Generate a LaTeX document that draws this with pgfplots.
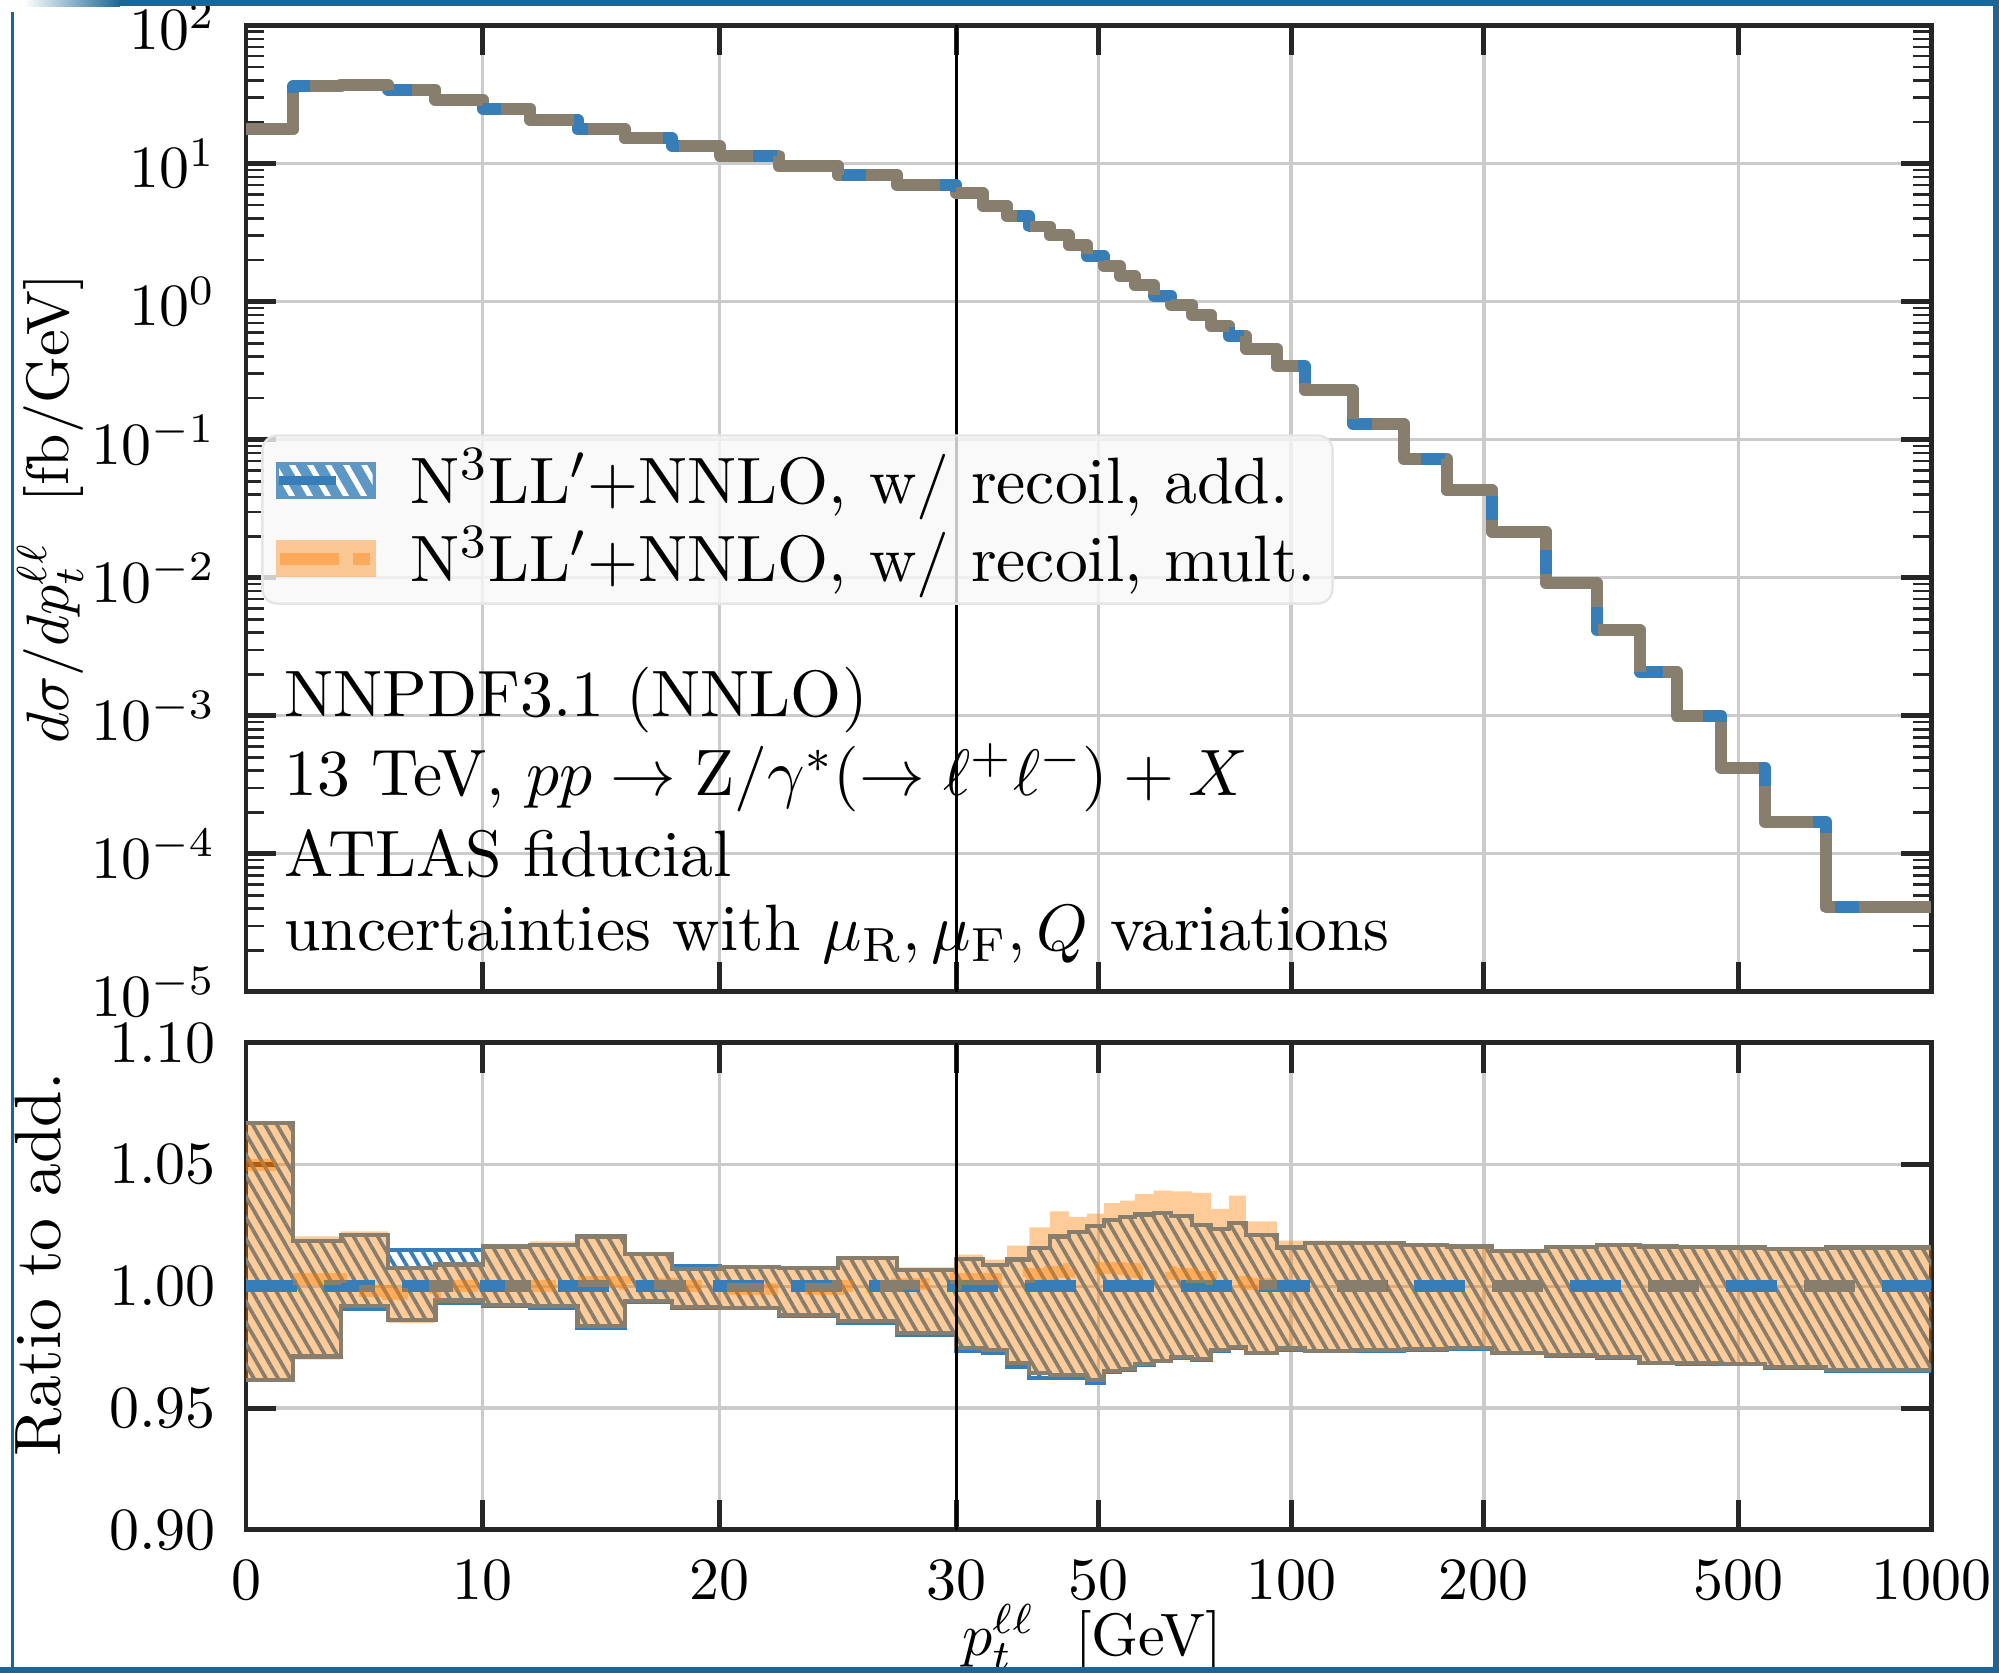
\documentclass[border=0pt]{standalone}
\usepackage{pgfplots}
\pgfplotsset{compat=1.18}
\usepackage{pgfplotstable}
\usepgfplotslibrary{fillbetween}
\usetikzlibrary{patterns.meta}
\definecolor{cblue}{HTML}{377EB8}
\definecolor{corange}{HTML}{FF7F00}
\definecolor{cmix}{HTML}{877E6E}
\definecolor{frameblue}{HTML}{1B6697}
\definecolor{axblack}{HTML}{262626}
\definecolor{gridgray}{HTML}{CBCBCB}

% bin left edge, add. prediction [fb/GeV], ratio bands (blue = add., orange = mult.), mult./add. central
\pgfplotstableread{
x     add       bu      bl      ou      ol      oc
0     17.7      1.0671  0.9616  1.0675  0.9610  1.050
2     36.5      1.0185  0.9712  1.0205  0.9699  1.003
4     37.3      1.0212  0.9908  1.0226  0.9920  0.998
6     34.3      1.0150  0.9863  1.0075  0.9850  0.997
8     29.1      1.0150  0.9934  1.0090  0.9942  1.000
10    25.0      1.0164  0.9918  1.0165  0.9925  1.000
12    20.8      1.0170  0.9910  1.0185  0.9920  1.000
14    17.7      1.0205  0.9830  1.0210  0.9836  1.002
16    15.2      1.0133  0.9935  1.0140  0.9940  1.001
18    13.4      1.0085  0.9910  1.0070  0.9915  1.000
20    11.4      1.0080  0.9910  1.0078  0.9912  0.999
22.5  9.62      1.0077  0.9877  1.0075  0.9884  0.999
25    8.28      1.0116  0.9850  1.0123  0.9857  1.000
27.5  6.98      1.0068  0.9800  1.0078  0.9807  1.001
30    6.1       1.0114  0.9733  1.0130  0.9747  1.003
33    4.96      1.0089  0.9726  1.0110  0.9740  1.003
36    4.16      1.0110  0.9671  1.0167  0.9685  1.004
39    3.50      1.0158  0.9623  1.0242  0.9644  1.005
42    3.02      1.0205  0.9623  1.0308  0.9637  1.006
45    2.56      1.0222  0.9623  1.0285  0.9637  1.007
48    2.13      1.0247  0.9603  1.0299  0.9615  1.0075
51    1.81      1.0274  0.9650  1.0342  0.9652  1.0075
54    1.53      1.0284  0.9658  1.0352  0.9660  1.007
57    1.32      1.0295  0.9678  1.0379  0.9680  1.006
61    1.10      1.0301  0.9692  1.0393  0.9694  1.006
65    0.946     1.0290  0.9708  1.0390  0.9710  1.005
70    0.80      1.0253  0.9699  1.0384  0.9701  1.004
75    0.668     1.0236  0.9736  1.0318  0.9738  1.003
80    0.560     1.0260  0.9747  1.0373  0.9750  1.002
85    0.454     1.0210  0.9726  1.0267  0.9728  1.001
95    0.340     1.0160  0.9740  1.0188  0.9745  1.000
105   0.229     1.0178  0.9733  1.0188  0.9735  1.000
125   0.130     1.0178  0.9736  1.0180  0.9738  1.000
150   0.0726    1.0171  0.9740  1.0173  0.9742  1.000
175   0.0430    1.0164  0.9744  1.0166  0.9746  1.000
206   0.0216    1.0144  0.9726  1.0146  0.9728  1.000
250   0.0092    1.0162  0.9716  1.0164  0.9718  1.000
300   0.00419   1.0171  0.9708  1.0173  0.9710  1.000
350   0.00208   1.0164  0.9685  1.0166  0.9687  1.000
400   0.00100   1.0162  0.9682  1.0164  0.9684  1.000
470   0.00042   1.0160  0.9680  1.0162  0.9682  1.000
550   0.000170  1.0155  0.9667  1.0157  0.9669  1.000
685   0.0000409 1.0160  0.9653  1.0162  0.9655  1.000
1000  0.0000409 1.0160  0.9653  1.0162  0.9655  1.000
}\data

% mult./add. central value from 2 to 95 GeV (first bin: 1.05; above 95 GeV: 1)
\pgfplotstableread{
x     oc
2     1.003
4     0.998
6     0.997
8     1.000
14    1.002
16    1.001
18    1.000
20    0.999
25    1.000
27.5  1.001
30    1.003
36    1.004
39    1.005
42    1.006
45    1.007
48    1.0075
54    1.007
57    1.006
65    1.005
70    1.004
75    1.003
80    1.002
85    1.001
95    1.001
}\oclow

\pgfplotsset{
  ptaxis/.style={
    scale only axis, width=281.28pt,
    xmin=0, xmax=1000,
    x coord trafo/.code={\pgfmathparse{min(##1,30)+11.7434*ln(max(##1,30)/30)}},
    xtick={0,10,20,30,50,100,200,500,1000},
    grid=major,
    major grid style={gridgray, line width=0.55pt},
    axis line style={axblack, line width=0.8pt},
    major tick length=5pt, minor tick length=3pt,
    major tick style={axblack, line width=0.8pt},
    minor tick style={axblack, line width=0.45pt},
    tick align=inside,
    yticklabel style={xshift=-1.5pt},
    xticklabel style={yshift=-1.5pt},
  }
}

\begin{document}
\begin{tikzpicture}
% ---------------- upper panel ----------------
\begin{axis}[ptaxis,
  at={(41.06pt,-165.53pt)}, anchor=south west, height=161.28pt,
  ymode=log, ymin=1e-5, ymax=1e2, ytickten={-5,...,2},
  xticklabels={},
  ylabel={$d\sigma/dp_t^{\ell\ell}$~~[fb/GeV]},
  ylabel style={at={(axis description cs:-0.116,0.5)}, anchor=center},
  legend cell align=left,
  legend style={at={(0.009,0.577)}, anchor=north west,
    fill=black!3, fill opacity=0.8, draw=black!10, draw opacity=1, text opacity=1,
    rounded corners=2.5pt, inner xsep=2pt, inner ysep=1pt,
    font=\fontsize{10.95}{13.5}\selectfont,
    nodes={inner ysep=1.2pt, inner xsep=0.8pt},
    /tikz/every odd column/.append style={column sep=5pt},
    row sep=0pt},
]
\addlegendimage{legend image code/.code={
  \fill[cblue, draw=none, sharp corners] (0pt,-3.05pt) rectangle (16.8pt,3.05pt);
  \fill[pattern={Lines[angle=-60,distance=2.6pt,line width=0.9pt]}, pattern color=white, draw=none, sharp corners] (0.6pt,-2.45pt) rectangle (16.2pt,2.45pt);
  \draw[cblue, line width=1.6pt, sharp corners] (0.6pt,0pt) -- (10pt,0pt);
}}
\addlegendentry{N$^3$LL$'$$+$NNLO, w/ recoil, add.}
\addlegendimage{legend image code/.code={
  \fill[corange, fill opacity=0.4, draw=none, sharp corners] (0pt,-3.05pt) rectangle (16.8pt,3.05pt);
  \draw[corange, opacity=0.4, line width=2pt, sharp corners] (0.8pt,0pt) -- (10.5pt,0pt) (13pt,0pt) -- (15.8pt,0pt);
}}
\addlegendentry{N$^3$LL$'$$+$NNLO, w/ recoil, mult.}

\addplot[forget plot, black, line width=0.4pt] coordinates {(30,1e-5) (30,1e2)};
\addplot[forget plot, const plot, cblue, line width=2pt, line join=round] table[x=x, y=add]{\data};
\addplot[forget plot, const plot, corange, opacity=0.4, line width=2pt, line join=round,
  dash pattern=on 14pt off 4pt] table[x=x, y=add]{\data};

\begin{scope}[font=\fontsize{10.95}{13.5}\selectfont]
\node[anchor=west, inner sep=0pt] at (rel axis cs:0.022,0.302) {NNPDF3.1 (NNLO)};
\node[anchor=west, inner sep=0pt] at (rel axis cs:0.022,0.2216) {13 TeV, $pp\to \mathrm{Z}/\gamma^*(\to \ell^+\ell^-)+X$};
\node[anchor=west, inner sep=0pt] at (rel axis cs:0.022,0.1425) {ATLAS fiducial};
\node[anchor=west, inner sep=0pt] at (rel axis cs:0.022,0.0594) {uncertainties with $\mu_\mathrm{R},\mu_\mathrm{F},Q$ variations};
\end{scope}
\end{axis}

% ---------------- ratio panel ----------------
\begin{axis}[ptaxis,
  at={(41.06pt,-255.32pt)}, anchor=south west, height=81.28pt,
  ymin=0.9, ymax=1.1, ytick={0.9,0.95,1.0,1.05,1.1},
  yticklabel style={/pgf/number format/.cd, fixed, fixed zerofill, precision=2},
  xticklabels={0,10,20,30,50,100,200,500,1000},
  xlabel={$p_t^{\ell\ell}$~~[GeV]},
  xlabel style={at={(axis description cs:0.502,0)}, anchor=center, yshift=-17.9pt},
  ylabel={Ratio to add.},
  ylabel style={at={(axis description cs:-0.1234,0.545)}, anchor=center, font=\fontsize{10.95}{13.5}\selectfont},
]
% add. band: hatched, blue edges
\addplot[name path=bu, const plot, draw=cblue, line width=0.7pt] table[x=x, y=bu]{\data};
\addplot[name path=bl, const plot, draw=cblue, line width=0.7pt] table[x=x, y=bl]{\data};
\addplot[pattern={Lines[angle=-60,distance=1.75pt,line width=0.62pt]}, pattern color=cblue, draw=none] fill between[of=bu and bl];
% mult. band: translucent orange
\addplot[name path=ou, const plot, draw=none] table[x=x, y=ou]{\data};
\addplot[name path=ol, const plot, draw=none] table[x=x, y=ol]{\data};
\addplot[fill=corange, fill opacity=0.4, draw=none] fill between[of=ou and ol];
% edges of the overlap (blue seen through orange)
\addplot[const plot, draw=cmix, line width=0.7pt] table[x=x, y expr={min(\thisrow{bu},\thisrow{ou})}]{\data};
\addplot[const plot, draw=cmix, line width=0.7pt] table[x=x, y expr={max(\thisrow{bl},\thisrow{ol})}]{\data};
% central lines
\addplot[cblue, line width=2pt, dash pattern=on 8.5pt off 4.5pt] coordinates {(0,1) (1000,1)};
\addplot[corange, opacity=0.4, line width=2pt, dash pattern=on 5pt off 10pt] coordinates {(0,1.05) (2,1.05)};
\addplot[const plot, corange, opacity=0.4, line width=2pt, dash pattern=on 8.5pt off 4.5pt] table[x=x, y=oc]{\oclow};
\addplot[corange, opacity=0.4, line width=2pt, dash pattern=on 8.5pt off 17.5pt, dash phase=16.05pt] coordinates {(95,1) (1000,1)};
\addplot[black, line width=0.4pt] coordinates {(30,0.9) (30,1.1)};
\end{axis}

% ---------------- outer frame ----------------
\shade[left color=white, right color=frameblue] (4pt,0pt) rectangle (20pt,-1pt);
\fill[frameblue] (20pt,0pt) rectangle (333.62pt,-1pt);
\fill[frameblue] (0pt,-278.15pt) rectangle (333.62pt,-279.15pt);
\fill[frameblue] (332.62pt,0pt) rectangle (333.62pt,-279.15pt);
\fill[frameblue] (1.8pt,-2pt) rectangle (2.4pt,-279.15pt);
\pgfresetboundingbox
\path[use as bounding box] (0pt,0pt) rectangle (333.62pt,-279.15pt);
\end{tikzpicture}
\end{document}
